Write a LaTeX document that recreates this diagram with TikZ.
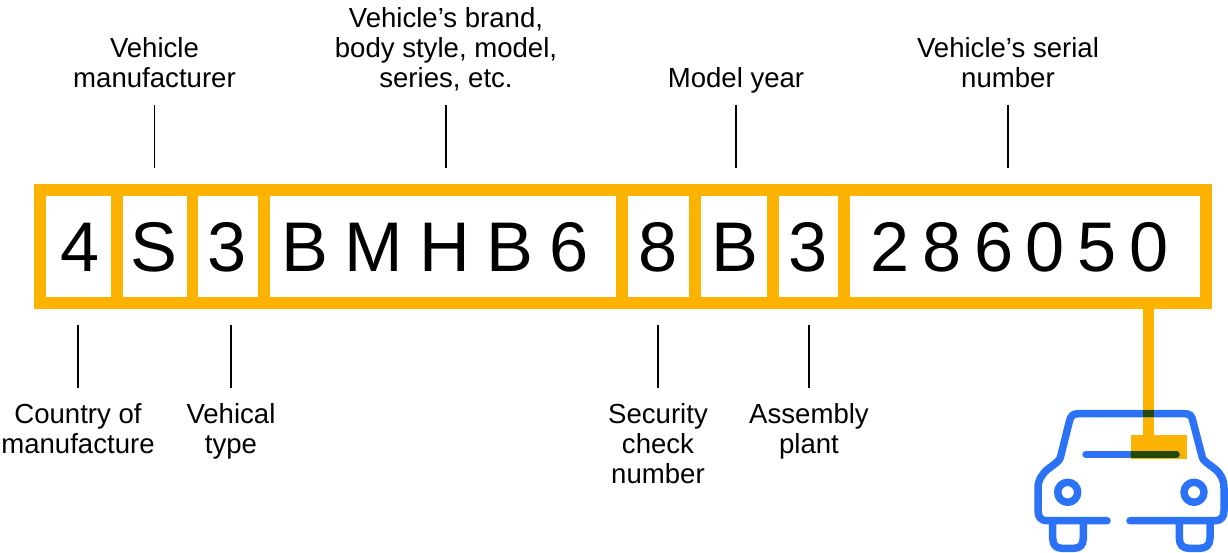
\documentclass[tikz,border=0pt]{standalone}
\usepackage{fontspec}
\setmainfont{Liberation Sans}
\usetikzlibrary{positioning}
\definecolor{vinyellow}{HTML}{FBB200}
\definecolor{carblue}{HTML}{2B72F6}
\definecolor{overlap}{HTML}{234A08}
\tikzset{
    x=0.02cm,y=-0.02cm,
    band/.style ={rectangle, fill=vinyellow, inner sep=0, minimum width=23.56cm, minimum height=2.5cm},
    cell/.style ={rectangle, fill=white, inner sep=0, minimum height=2.02cm},
    char/.style ={anchor=base, inner sep=0, font=\fontsize{40}{48}\selectfont},
    toplabel/.style ={anchor=south, align=center, inner sep=0, outer sep=0.35cm, text depth=0pt, font=\fontsize{15.7}{17}\selectfont},
    botlabel/.style ={anchor=north, align=center, inner sep=0, outer sep=0.32cm, font=\fontsize{15.7}{17}\selectfont},
    tick/.style ={draw=black, line width=0.7pt, shorten >=0.31cm},
    carline/.style ={draw=carblue, line width=0.15cm, line cap=round, line join=round},
    darkline/.style ={draw=overlap, line width=0.15cm}
}
\begin{document}
\begin{tikzpicture}
    \useasboundingbox (0,0) rectangle (1228,553);
    % number strip
    \node[band] (strip) at (623,246.5) {};
    \node[cell, minimum width=1.3cm] (c1) at (78.5,246.5) {};
    \node[cell, minimum width=1.28cm] (c2) at (155,246.5) {};
    \node[cell, minimum width=1.2cm] (c3) at (228,246.5) {};
    \node[cell, minimum width=6.92cm] (c4) at (443,246.5) {};
    \node[cell, minimum width=1.22cm] (c5) at (658.5,246.5) {};
    \node[cell, minimum width=1.32cm] (c6) at (734,246.5) {};
    \node[cell, minimum width=1.18cm] (c7) at (808.5,246.5) {};
    \node[cell, minimum width=7cm] (c8) at (1025,246.5) {};

    \node[char] (d1) at (80,272) {4};
    \node[char] (d2) at (154,272) {S};
    \node[char] (d3) at (227,272) {3};
    \node[char] (d4) at (435,272) {\addfontfeature{LetterSpace=23}BMHB6};
    \node[char] (d5) at (658,272) {8};
    \node[char] (d6) at (735,272) {B};
    \node[char] (d7) at (808,272) {3};
    \node[char] (d8) at (1019.5,272) {\addfontfeature{LetterSpace=18}286050};

    % labels
    \node[toplabel] (maker) at (154.5,105) {Vehicle\\manufacturer};
    \node[toplabel] (brand) at (446,105) {Vehicle’s brand,\\body style, model,\\series, etc.};
    \node[toplabel] (year) at (736,105) {Model year};
    \node[toplabel] (serial) at (1008,105) {Vehicle’s serial\\number};
    \node[botlabel] (country) at (78,388) {Country of\\manufacture};
    \node[botlabel] (type) at (231,388) {Vehical\\type};
    \node[botlabel] (check) at (658,388) {Security\\check\\number};
    \node[botlabel] (plant) at (809,388) {Assembly\\plant};

    \draw[tick] (maker.south) -- (maker.south |- strip.north);
    \draw[tick] (brand.south) -- (brand.south |- strip.north);
    \draw[tick] (year.south) -- (year.south |- strip.north);
    \draw[tick] (serial.south) -- (serial.south |- strip.north);
    \draw[tick] (country.north) -- (country.north |- strip.south);
    \draw[tick] (type.north) -- (type.north |- strip.south);
    \draw[tick] (check.north) -- (check.north |- strip.south);
    \draw[tick] (plant.north) -- (plant.north |- strip.south);

    % plate on the car
    \node[rectangle, fill=vinyellow, inner sep=0, minimum width=1.11cm, minimum height=0.48cm] (plate) at (1158.8,447) {};
    \coordinate (stem) at (1148.5,435);
    \draw[vinyellow, line width=0.23cm] (stem |- strip.south) -- (stem);

    % car
    \draw[carline] (1107,520.7) -- (1047,520.7) .. controls (1041,520.7) and (1038,517) .. (1038,511) -- (1038,488)
        .. controls (1038,480) and (1042,474) .. (1048,469) -- (1056,463) .. controls (1059,461) and (1060,459) .. (1061,455)
        -- (1069.3,421.7) .. controls (1070.5,416) and (1073,413.7) .. (1078,413.7) -- (1185,413.7)
        .. controls (1190,413.7) and (1192,416) .. (1193,421.7) -- (1201.7,455) .. controls (1202.5,459) and (1204,461) .. (1207,463)
        -- (1215,469) .. controls (1221,474) and (1224,480) .. (1224,488) -- (1224,511)
        .. controls (1224,517) and (1221,520.7) .. (1215,520.7) -- (1130,520.7);
    \draw[carline] (1052.7,520.7) -- (1052.7,538) .. controls (1052.7,545) and (1056,548.3) .. (1062,548.3) -- (1074,548.3)
        .. controls (1080,548.3) and (1083.3,545) .. (1083.3,538) -- (1083.3,520.7);
    \draw[carline] (1179.3,520.7) -- (1179.3,538) .. controls (1179.3,545) and (1183,548.3) .. (1189,548.3) -- (1200,548.3)
        .. controls (1206,548.3) and (1210,545) .. (1210,538) -- (1210,520.7);
    \draw[carline] (1067.7,492.3) circle (10);
    \draw[carline] (1194,492.3) circle (10);
    \draw[carline] (1086,454.3) -- (1176,454.3);

    % where plate and car cross
    \draw[darkline] (1142.7,413.7) -- (1154.3,413.7);
    \draw[darkline, line cap=round] (1134,454.3) -- (1176,454.3);
    \draw[darkline] (1131,454.3) -- (1135,454.3);
\end{tikzpicture}
\end{document}
